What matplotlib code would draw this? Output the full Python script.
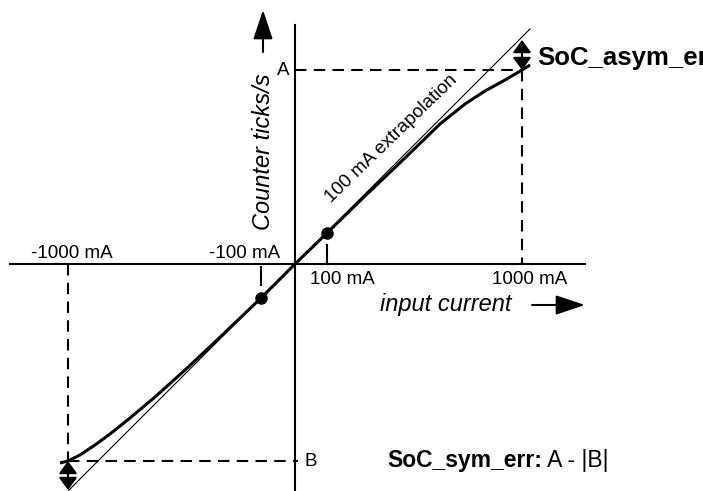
import numpy as np
import matplotlib.pyplot as plt

plt.rcParams['font.family'] = ['Liberation Sans', 'DejaVu Sans']

# diagram units (origin at the crossing of the axes)
curve_x = [-235, -227, -215, -200, -185, -165, -140, -110, -80, -34, 0, 32, 70, 110, 145, 170, 190, 210, 227, 235]
curve_y = [-199, -197, -191, -181, -170, -154, -133, -106, -78, -34, 0, 31, 68, 106, 140, 160, 173, 184, 194, 199]
extrap_x = [-227, 235]
dot_x = [-34, 32]
dot_y = [-34, 31]
x_1000 = [-227, 227]
level_A = 194
level_B = -197

fig = plt.figure(figsize=(7.03, 4.91), dpi=100)
ax = fig.add_axes([0, 0, 1, 1])
ax.set_xlim(-295, 408)
ax.set_ylim(-227, 264)
ax.axis('off')

# axes
ax.plot([-285, 290], [0, 0], 'k-', lw=1.5)
ax.plot([0, 0], [239, -227], 'k-', lw=1.5)

dash = (0, (5.5, 3.5))
ax.plot([0, x_1000[1]], [level_A, level_A], 'k', lw=1.5, ls=dash)
ax.plot([x_1000[1], x_1000[1]], [level_A, 0], 'k', lw=1.5, ls=dash)
ax.plot([x_1000[0], 3], [level_B, level_B], 'k', lw=1.5, ls=dash)
ax.plot([x_1000[0], x_1000[0]], [0, level_B], 'k', lw=1.5, ls=dash)
ax.plot([dot_x[1], dot_x[1]], [dot_y[1] - 12, 0], 'k', lw=1.5)
ax.plot([dot_x[0], dot_x[0]], [-3, dot_y[0] + 13], 'k', lw=1.5)

# curves
ax.plot(extrap_x, extrap_x, 'k-', lw=0.8)
ax.plot(curve_x, curve_y, 'k-', lw=2.2, solid_capstyle='butt')
ax.plot(dot_x, dot_y, 'ko', ms=8)

# double arrows for the errors
dbl = dict(arrowstyle='<|-|>,head_length=0.75,head_width=0.55', color='k',
           lw=1.5, mutation_scale=10, shrinkA=0, shrinkB=0)
ax.annotate('', xy=(x_1000[1], x_1000[1] - 3), xytext=(x_1000[1], level_A), arrowprops=dbl)
ax.annotate('', xy=(x_1000[0], x_1000[0] + 1), xytext=(x_1000[0], level_B), arrowprops=dbl)

# axis arrows
arr = dict(arrowstyle='-|>,head_length=0.9,head_width=0.3', color='k',
           lw=1.5, mutation_scale=20, shrinkA=0, shrinkB=0)
ax.annotate('', xy=(-32, 254), xytext=(-32, 212), arrowprops=arr)
ax.annotate('', xy=(290, -41), xytext=(237, -41), arrowprops=arr)

# labels
ax.text(-223, 6, '-1000 mA', fontsize=13.5, ha='center', va='baseline')
ax.text(-50, 6, '-100 mA', fontsize=13.5, ha='center', va='baseline')
ax.text(47, -7, '100 mA', fontsize=13.5, ha='center', va='top')
ax.text(235, -7, '1000 mA', fontsize=13.5, ha='center', va='top')
ax.text(-6, level_A, 'A', fontsize=13.5, ha='right', va='center')
ax.text(10, level_B, 'B', fontsize=13.5, ha='left', va='center')
ax.text(-32, 112, 'Counter ticks/s', fontsize=17, style='italic', rotation=90,
        ha='center', va='center')
ax.text(217, -41, 'input current', fontsize=17, style='italic', ha='right', va='center')
ax.text(96, 125, '100 mA extrapolation', fontsize=13.5, rotation=44,
        rotation_mode='anchor', ha='center', va='center')
ax.text(242, 206, 'SoC_asym_err', fontsize=18.5, weight='bold', ha='left', va='center')
t = ax.text(92, level_B, 'SoC_sym_err:', fontsize=16.5, weight='bold', ha='left', va='center')
ax.annotate(' A - |B|', xy=(1, 0), xycoords=t, fontsize=16.5, ha='left', va='bottom')

fig.savefig('out.png', dpi=100)
